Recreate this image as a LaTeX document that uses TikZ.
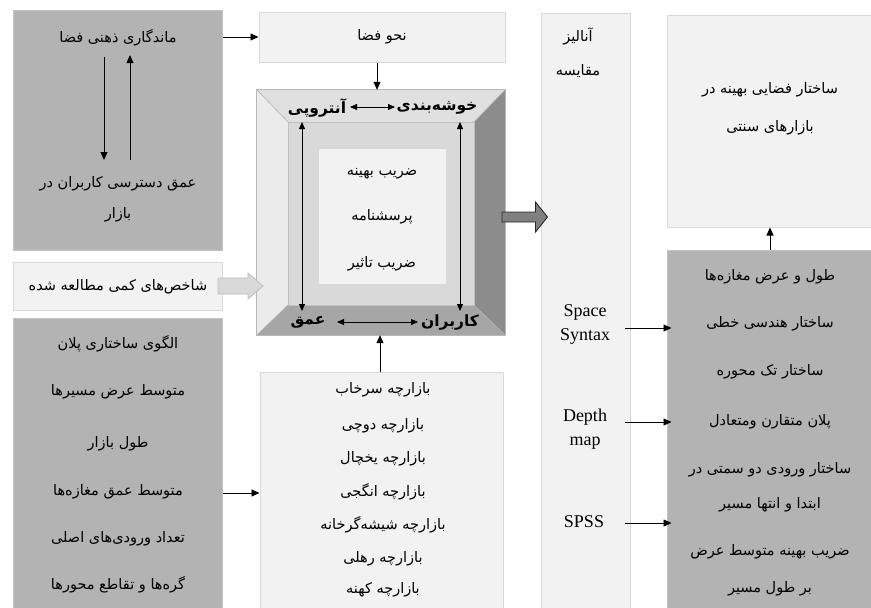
\documentclass[tikz,border=0pt]{standalone}
\usepackage{fontspec}
\setmainfont{Liberation Serif}
\newfontfamily\fafont[Script=Arabic]{DejaVu Sans}
\TeXXeTstate=1
\usetikzlibrary{arrows.meta}
\newcommand\fatxt[1]{{\fafont\beginR #1\endR}}
\definecolor{darkfill}{HTML}{B3B3B3}
\definecolor{lightfill}{HTML}{F2F2F2}
\definecolor{lightedge}{HTML}{D9D9D9}
\begin{document}
\begin{tikzpicture}[x=1pt,y=-1pt,
  darkbox/.style={draw=lightedge!90!black,line width=1pt,fill=darkfill,minimum width=#1},
  lightbox/.style={draw=lightedge,line width=1pt,fill=lightfill,minimum width=#1},
  fa/.style={inner sep=1pt,yshift=-2.5pt,font=\fafont\fontsize{14.5}{17}\selectfont},
  fab/.style={inner sep=1pt,yshift=-2.5pt,font=\fafont\bfseries\fontsize{15.5}{18}\selectfont},
  lat/.style={inner sep=1pt,align=center,font=\fontsize{18}{24}\selectfont},
  arr/.style={-{Triangle[length=8pt,width=7pt]},line width=0.8pt},
  darr/.style={{Triangle[length=7pt,width=6pt]}-{Triangle[length=7pt,width=6pt]},line width=0.8pt}]
\useasboundingbox (0,0) rectangle (871,608);

% ---------- left column ----------
\node[darkbox=209pt,minimum height=240pt] (b1) at (117.5,130) {};
\node[fa] (t1a) at (118,35) {\fatxt{ماندگاری ذهنی فضا}};
\node[fa] (t1b) at (118,181) {\fatxt{عمق دسترسی کاربران در}};
\node[fa] (t1c) at (118,212) {\fatxt{بازار}};
\coordinate (d1) at (104,57);
\coordinate (d2) at (104,160);
\coordinate (u1) at (130,160);
\coordinate (u2) at (130,55);
\draw[arr] (d1) -- (d2);
\draw[arr] (u1) -- (u2);

\node[lightbox=209pt,minimum height=48pt] (sh) at (117.5,286) {};
\node[fa] (tsh) at (118,284) {\fatxt{شاخص‌های کمی مطالعه شده}};

\node[darkbox=209pt,minimum height=292pt] (b2) at (117.5,464) {};
\node[fa] (l1) at (118,341) {\fatxt{الگوی ساختاری پلان}};
\node[fa] (l2) at (118,389) {\fatxt{متوسط عرض مسیرها}};
\node[fa] (l3) at (118,441) {\fatxt{طول بازار}};
\node[fa] (l4) at (118,489) {\fatxt{متوسط عمق مغازه‌ها}};
\node[fa] (l5) at (118,536) {\fatxt{تعداد ورودی‌های اصلی}};
\node[fa] (l6) at (118,582) {\fatxt{گره‌ها و تقاطع محورها}};

% ---------- middle column ----------
\node[lightbox=246pt,minimum height=50pt] (nahv) at (382,37) {};
\node[fa] (tnahv) at (382,34) {\fatxt{نحو فضا}};

\node[minimum width=248pt,minimum height=245pt,inner sep=0pt] (bev) at (381,212.5) {};
\coordinate (o1) at (bev.north west);
\coordinate (o2) at (bev.north east);
\coordinate (o3) at (bev.south east);
\coordinate (o4) at (bev.south west);
\coordinate (i1) at (288,122);
\coordinate (i2) at (474,122);
\coordinate (i3) at (474,305);
\coordinate (i4) at (288,305);
\fill[fill=black!12] (o1) -- (o2) -- (i2) -- (i1) -- cycle;
\fill[fill=black!8] (o1) -- (i1) -- (i4) -- (o4) -- cycle;
\fill[fill=black!45] (o2) -- (o3) -- (i3) -- (i2) -- cycle;
\fill[fill=black!35] (o4) -- (i4) -- (i3) -- (o3) -- cycle;
\fill[fill=lightedge] (i1) rectangle (i3);
\draw[black!30,line width=0.6pt] (o1) -- (i1) (o2) -- (i2) (o3) -- (i3) (o4) -- (i4);
\draw[black!25,line width=0.6pt] (i1) rectangle (i3);
\draw[black!28,line width=1.2pt] (o1) rectangle (o3);

\node[fill=lightfill,minimum width=127pt,minimum height=135pt] (core) at (382.5,216.5) {};
\node[fa] (c1) at (382,171) {\fatxt{ضریب بهینه}};
\node[fa] (c2) at (382,214) {\fatxt{پرسشنامه}};
\node[fa] (c3) at (382,261) {\fatxt{ضریب تاثیر}};

\node[fab] (kh) at (437,105) {\fatxt{خوشه‌بندی}};
\node[fab] (ant) at (317,105) {\fatxt{آنتروپی}};
\node[fab] (am) at (308,320) {\fatxt{عمق}};
\node[fab] (kar) at (450,320) {\fatxt{کاربران}};
\coordinate (ht1) at (350,107);
\coordinate (ht2) at (395,107);
\coordinate (hb1) at (337,322);
\coordinate (hb2) at (418,322);
\coordinate (vl1) at (302,122);
\coordinate (vl2) at (302,311);
\coordinate (vr1) at (460,122);
\coordinate (vr2) at (460,311);
\draw[darr] (ht1) -- (ht2);
\draw[darr] (hb1) -- (hb2);
\draw[darr] (vl1) -- (vl2);
\draw[darr] (vr1) -- (vr2);

\draw[arr] ([xshift=-5pt]nahv.south) -- ([xshift=-4pt]bev.north);
\draw[arr] (b1.east |- nahv) -- (nahv.west);

% light thick arrow
\draw[fill=lightedge,draw=black!25,line width=0.8pt]
  (218,278) -- (248,278) -- (248,273) -- (263,286) -- (248,299) -- (248,294) -- (218,294) -- cycle;

\node[lightbox=243pt,minimum height=238pt] (baz) at (381.5,491) {};
\node[fa] (z1) at (383,387) {\fatxt{بازارچه سرخاب}};
\node[fa] (z2) at (383,423) {\fatxt{بازارچه دوچی}};
\node[fa] (z3) at (383,456) {\fatxt{بازارچه یخچال}};
\node[fa] (z4) at (383,489) {\fatxt{بازارچه انگجی}};
\node[fa] (z5) at (383,522) {\fatxt{بازارچه شیشه‌گرخانه}};
\node[fa] (z6) at (383,556) {\fatxt{بازارچه رهلی}};
\node[fa] (z7) at (383,587) {\fatxt{بازارچه کهنه}};
\draw[arr] ([xshift=-1.5pt]baz.north) -- ([xshift=-1pt]bev.south);
\coordinate (b2a) at (b2.east |- 0,493);
\draw[arr] (b2a) -- (b2a -| baz.west);

% ---------- analysis column ----------
\node[lightbox=89pt,minimum height=597pt] (an) at (585.5,311.5) {};
\node[fa] (a1) at (578,34) {\fatxt{آنالیز}};
\node[fa] (a2) at (578,69) {\fatxt{مقایسه}};
\node[lat] (ss) at (585,324) {Space\\Syntax};
\node[lat] (dm) at (585,429) {Depth\\map};
\node[lat] (sp) at (584,522) {SPSS};

% dark thick arrow (over the analysis box)
\draw[fill=black!50,draw=black!85,line width=0.9pt]
  (502,212) -- (535.5,212) -- (535.5,202) -- (547.5,217) -- (535.5,232) -- (535.5,222) -- (502,222) -- cycle;

% ---------- right column ----------
\node[lightbox=205pt,minimum height=212pt] (rt) at (769.5,121) {};
\node[fa] (r0a) at (770,87) {\fatxt{ساختار فضایی بهینه در}};
\node[fa] (r0b) at (770,125) {\fatxt{بازارهای سنتی}};

\node[darkbox=205pt,minimum height=360pt] (rb) at (769.5,430) {};
\node[fa] (r1) at (770,274) {\fatxt{طول و عرض مغازه‌ها}};
\node[fa] (r2) at (770,321) {\fatxt{ساختار هندسی خطی}};
\node[fa] (r3) at (770,369) {\fatxt{ساختار تک محوره}};
\node[fa] (r4) at (770,419) {\fatxt{پلان متقارن ومتعادل}};
\node[fa] (r5) at (770,467) {\fatxt{ساختار ورودی دو سمتی در}};
\node[fa] (r6) at (770,502) {\fatxt{ابتدا و انتها مسیر}};
\node[fa] (r7) at (770,549) {\fatxt{ضریب بهینه متوسط عرض}};
\node[fa] (r8) at (770,586) {\fatxt{بر طول مسیر}};

\draw[arr] (rb.north -| r1) -- (rt.south -| r1);
\coordinate (s1) at (625,328);
\coordinate (s2) at (625,422);
\coordinate (s3) at (625,523);
\draw[arr] (s1) -- ([xshift=5pt]rb.west |- s1);
\draw[arr] (s2) -- ([xshift=5pt]rb.west |- s2);
\draw[arr] (s3) -- ([xshift=5pt]rb.west |- s3);
\end{tikzpicture}
\end{document}
